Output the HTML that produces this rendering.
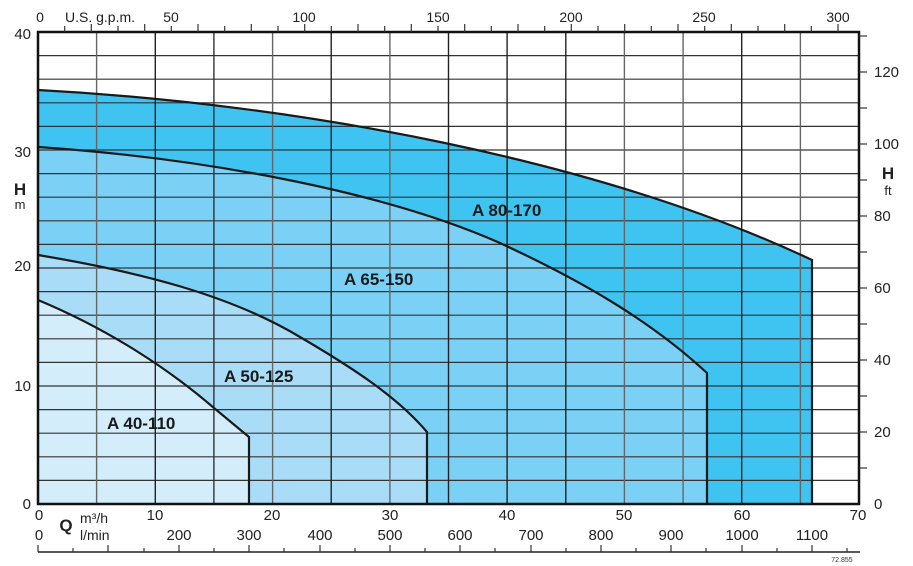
<!DOCTYPE html>
<html><head><meta charset="utf-8"><style>
html,body{margin:0;padding:0;background:#fff;}
svg{display:block;font-family:"Liberation Sans",Arial,sans-serif;}
</style></head><body>
<svg width="913" height="566" viewBox="0 0 913 566" xmlns="http://www.w3.org/2000/svg">
<!-- fills -->
<path d="M38,90 C300,104 600,160 812,260 L812,504 L38,504 Z" fill="#3fc4f1"/>
<path d="M38,147 C200,158 380,190 500,243 C580,280 650,320 707,373 L707,504 L38,504 Z" fill="#7ad1f5"/>
<path d="M38,255 C140,272 230,295 300,337 C360,372 400,400 427,432 L427,504 L38,504 Z" fill="#a9ddf7"/>
<path d="M38,300 C110,330 170,370 214,408 L249,437 L249,504 L38,504 Z" fill="#d4edfa"/>
<!-- grid -->
<g stroke="#333" stroke-width="1.2">
<line x1="38" y1="55.6" x2="859" y2="55.6"/><line x1="38" y1="79.2" x2="859" y2="79.2"/><line x1="38" y1="102.8" x2="859" y2="102.8"/><line x1="38" y1="126.4" x2="859" y2="126.4"/><line x1="38" y1="150" x2="859" y2="150"/><line x1="38" y1="173.6" x2="859" y2="173.6"/><line x1="38" y1="197.2" x2="859" y2="197.2"/><line x1="38" y1="220.8" x2="859" y2="220.8"/><line x1="38" y1="244.4" x2="859" y2="244.4"/><line x1="38" y1="268" x2="859" y2="268"/><line x1="38" y1="291.6" x2="859" y2="291.6"/><line x1="38" y1="315.2" x2="859" y2="315.2"/><line x1="38" y1="338.8" x2="859" y2="338.8"/><line x1="38" y1="362.4" x2="859" y2="362.4"/><line x1="38" y1="386" x2="859" y2="386"/><line x1="38" y1="409.6" x2="859" y2="409.6"/><line x1="38" y1="433.2" x2="859" y2="433.2"/><line x1="38" y1="456.8" x2="859" y2="456.8"/><line x1="38" y1="480.4" x2="859" y2="480.4"/>
</g>
<g stroke-width="1.4">
<line x1="96.6" y1="32" x2="96.6" y2="504" stroke="#666"/><line x1="155.3" y1="32" x2="155.3" y2="504" stroke="#222"/><line x1="213.9" y1="32" x2="213.9" y2="504" stroke="#333"/><line x1="272.6" y1="32" x2="272.6" y2="504" stroke="#666"/><line x1="331.2" y1="32" x2="331.2" y2="504" stroke="#222"/><line x1="389.9" y1="32" x2="389.9" y2="504" stroke="#666"/><line x1="448.5" y1="32" x2="448.5" y2="504" stroke="#222"/><line x1="507.1" y1="32" x2="507.1" y2="504" stroke="#222"/><line x1="565.8" y1="32" x2="565.8" y2="504" stroke="#222"/><line x1="624.4" y1="32" x2="624.4" y2="504" stroke="#666"/><line x1="683.1" y1="32" x2="683.1" y2="504" stroke="#666"/><line x1="741.7" y1="32" x2="741.7" y2="504" stroke="#222"/><line x1="800.4" y1="32" x2="800.4" y2="504" stroke="#666"/>
</g>
<!-- curves -->
<g fill="none" stroke="#1a1a1a" stroke-width="2.2">
<path d="M38,90 C300,104 600,160 812,260 L812,504"/>
<path d="M38,147 C200,158 380,190 500,243 C580,280 650,320 707,373 L707,504"/>
<path d="M38,255 C140,272 230,295 300,337 C360,372 400,400 427,432 L427,504"/>
<path d="M38,300 C110,330 170,370 214,408 L249,437 L249,504"/>
</g>
<!-- frame -->
<rect x="38" y="32" width="821" height="472" fill="none" stroke="#111" stroke-width="2.5"/>
<!-- top ticks gpm -->
<g stroke="#333" stroke-width="1.2">
<line x1="64.7" y1="26" x2="64.7" y2="32"/><line x1="91.3" y1="24" x2="91.3" y2="32"/><line x1="118" y1="26" x2="118" y2="32"/><line x1="144.7" y1="24" x2="144.7" y2="32"/><line x1="171.3" y1="26" x2="171.3" y2="32"/><line x1="198" y1="24" x2="198" y2="32"/><line x1="224.7" y1="26" x2="224.7" y2="32"/><line x1="251.3" y1="24" x2="251.3" y2="32"/><line x1="278" y1="26" x2="278" y2="32"/><line x1="304.7" y1="24" x2="304.7" y2="32"/><line x1="331.3" y1="26" x2="331.3" y2="32"/><line x1="358" y1="24" x2="358" y2="32"/><line x1="384.7" y1="26" x2="384.7" y2="32"/><line x1="411.3" y1="24" x2="411.3" y2="32"/><line x1="438" y1="26" x2="438" y2="32"/><line x1="464.7" y1="24" x2="464.7" y2="32"/><line x1="491.3" y1="26" x2="491.3" y2="32"/><line x1="518" y1="24" x2="518" y2="32"/><line x1="544.7" y1="26" x2="544.7" y2="32"/><line x1="571.3" y1="24" x2="571.3" y2="32"/><line x1="598" y1="26" x2="598" y2="32"/><line x1="624.7" y1="24" x2="624.7" y2="32"/><line x1="651.3" y1="26" x2="651.3" y2="32"/><line x1="678" y1="24" x2="678" y2="32"/><line x1="704.7" y1="26" x2="704.7" y2="32"/><line x1="731.3" y1="24" x2="731.3" y2="32"/><line x1="758" y1="26" x2="758" y2="32"/><line x1="784.7" y1="24" x2="784.7" y2="32"/><line x1="811.3" y1="26" x2="811.3" y2="32"/><line x1="838" y1="24" x2="838" y2="32"/>
</g>
<g font-size="14" fill="#222" text-anchor="middle">
<text x="40" y="22">0</text><text x="171" y="22">50</text><text x="304" y="22">100</text><text x="438" y="22">150</text><text x="571" y="22">200</text><text x="704" y="22">250</text><text x="838" y="22">300</text>
<text x="100" y="22">U.S. g.p.m.</text>
</g>
<!-- left axis -->
<g font-size="15" fill="#222" text-anchor="end">
<text x="31" y="39">40</text><text x="31" y="157">30</text><text x="31" y="271">20</text><text x="31" y="391">10</text><text x="31" y="509">0</text>
</g>
<text x="20" y="195" font-size="17" font-weight="bold" fill="#222" text-anchor="middle">H</text>
<text x="20" y="209" font-size="13" fill="#222" text-anchor="middle">m</text>
<!-- right axis ft -->
<g stroke="#333" stroke-width="1.2">
<line x1="859" y1="468" x2="867" y2="468"/><line x1="859" y1="432" x2="867" y2="432"/><line x1="859" y1="396" x2="867" y2="396"/><line x1="859" y1="360" x2="867" y2="360"/><line x1="859" y1="324" x2="867" y2="324"/><line x1="859" y1="288" x2="867" y2="288"/><line x1="859" y1="252" x2="867" y2="252"/><line x1="859" y1="216" x2="867" y2="216"/><line x1="859" y1="180" x2="867" y2="180"/><line x1="859" y1="144" x2="867" y2="144"/><line x1="859" y1="108" x2="867" y2="108"/><line x1="859" y1="72" x2="867" y2="72"/><line x1="859" y1="36" x2="867" y2="36"/>
</g>
<g font-size="15" fill="#222">
<text x="874" y="509">0</text><text x="874" y="437">20</text><text x="874" y="365">40</text><text x="874" y="293">60</text><text x="874" y="221">80</text><text x="874" y="149">100</text><text x="874" y="77">120</text>
</g>
<text x="888" y="179" font-size="17" font-weight="bold" fill="#222" text-anchor="middle">H</text>
<text x="888" y="195" font-size="13" fill="#222" text-anchor="middle">ft</text>
<!-- bottom m3/h -->
<g font-size="15" fill="#222" text-anchor="middle">
<text x="39" y="520">0</text><text x="155" y="520">10</text><text x="272" y="520">20</text><text x="390" y="520">30</text><text x="507" y="520">40</text><text x="624" y="520">50</text><text x="742" y="520">60</text><text x="858" y="520">70</text>
</g>
<text x="66" y="531" font-size="17" font-weight="bold" fill="#222" text-anchor="middle">Q</text>
<text x="80" y="523" font-size="14" fill="#222">m³/h</text>
<text x="80" y="540" font-size="14" fill="#222">l/min</text>
<!-- bottom l/min -->
<g font-size="15" fill="#222" text-anchor="middle">
<text x="39" y="540">0</text><text x="179" y="540">200</text><text x="249" y="540">300</text><text x="320" y="540">400</text><text x="390" y="540">500</text><text x="460" y="540">600</text><text x="531" y="540">700</text><text x="601" y="540">800</text><text x="671" y="540">900</text><text x="742" y="540">1000</text><text x="812" y="540">1100</text>
</g>
<line x1="38" y1="552" x2="860" y2="552" stroke="#222" stroke-width="1.5"/>
<g stroke="#333" stroke-width="1.2">
<line x1="38" y1="545" x2="38" y2="552"/><line x1="73" y1="548" x2="73" y2="552"/><line x1="108" y1="545" x2="108" y2="552"/><line x1="144" y1="548" x2="144" y2="552"/><line x1="179" y1="545" x2="179" y2="552"/><line x1="214" y1="548" x2="214" y2="552"/><line x1="249" y1="545" x2="249" y2="552"/><line x1="284" y1="548" x2="284" y2="552"/><line x1="320" y1="545" x2="320" y2="552"/><line x1="355" y1="548" x2="355" y2="552"/><line x1="390" y1="545" x2="390" y2="552"/><line x1="425" y1="548" x2="425" y2="552"/><line x1="460" y1="545" x2="460" y2="552"/><line x1="495" y1="548" x2="495" y2="552"/><line x1="531" y1="545" x2="531" y2="552"/><line x1="566" y1="548" x2="566" y2="552"/><line x1="601" y1="545" x2="601" y2="552"/><line x1="636" y1="548" x2="636" y2="552"/><line x1="671" y1="545" x2="671" y2="552"/><line x1="706" y1="548" x2="706" y2="552"/><line x1="742" y1="545" x2="742" y2="552"/><line x1="777" y1="548" x2="777" y2="552"/><line x1="812" y1="545" x2="812" y2="552"/><line x1="847" y1="548" x2="847" y2="552"/>
</g>
<text x="842" y="562" font-size="7" fill="#333" text-anchor="middle">72.855</text>
<!-- labels -->
<g font-size="17" font-weight="bold" fill="#1a1a1a">
<text x="472" y="216">A 80-170</text>
<text x="344" y="285">A 65-150</text>
<text x="224" y="382">A 50-125</text>
<text x="107" y="429">A 40-110</text>
</g>
</svg>
</body></html>
